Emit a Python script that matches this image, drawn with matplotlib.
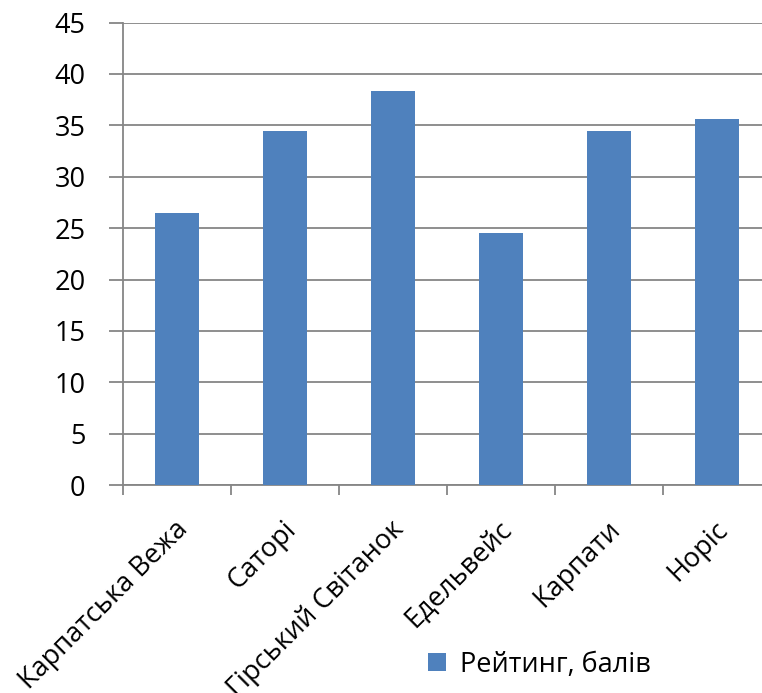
import numpy as np
import matplotlib.pyplot as plt
import matplotlib.transforms as mtransforms
from matplotlib.patches import Patch

# data
hotels = ["Карпатська Вежа", "Саторі", "Гірський Світанок", "Едельвейс", "Карпати", "Норіс"]
rating = [26.5, 34.4, 38.3, 24.5, 34.4, 35.6]
series_name = "Рейтинг, балів"
y_ticks = list(range(0, 50, 5))

plt.rcParams["font.family"] = ["Open Sans", "DejaVu Sans"]

bar_color = "#4F81BD"
grid_color = "#868686"
fsize = 19.5

fig = plt.figure(figsize=(7.62, 6.93), dpi=100)
# the plot area runs a bit past the right edge in the original
ax = fig.add_axes([0.1614, 0.300, 0.8506, 0.6675])

x = np.arange(len(hotels))
ax.bar(x, rating, width=0.41, color=bar_color, zorder=3)

ax.set_xlim(-0.5, len(hotels) - 0.5)
ax.set_ylim(0, 45)
ax.set_yticks(y_ticks)
ax.set_yticklabels([str(t) for t in y_ticks], fontsize=fsize)
ax.yaxis.grid(True, color=grid_color, linewidth=1.3, zorder=0)
ax.tick_params(axis="y", length=10, width=1.3, color=grid_color, pad=17)

# category boundary ticks on x
ax.set_xticks(np.arange(-0.5, len(hotels), 1))
ax.set_xticklabels([])
ax.tick_params(axis="x", length=7, width=1.3, color=grid_color)
ax.set_xticks(x, minor=True)
ax.set_xticklabels(hotels, minor=True, rotation=45, ha="right", va="top",
                   rotation_mode="anchor", fontsize=fsize)
ax.tick_params(axis="x", which="minor", length=0, pad=22)
shift = mtransforms.ScaledTranslation(-3 / 100, 0, fig.dpi_scale_trans)
for lab in ax.get_xticklabels(minor=True):
    lab.set_transform(lab.get_transform() + shift)

for side in ["top", "right"]:
    ax.spines[side].set_visible(False)
for side in ["left", "bottom"]:
    ax.spines[side].set_color(grid_color)
    ax.spines[side].set_linewidth(1.3)

handle = Patch(facecolor=bar_color, label=series_name)
fig.legend(handles=[handle], loc="center", bbox_to_anchor=(0.708, 0.041),
           frameon=False, fontsize=fsize, handlelength=0.65, handleheight=0.65,
           handletextpad=0.5)

fig.savefig("out.png", dpi=100)
